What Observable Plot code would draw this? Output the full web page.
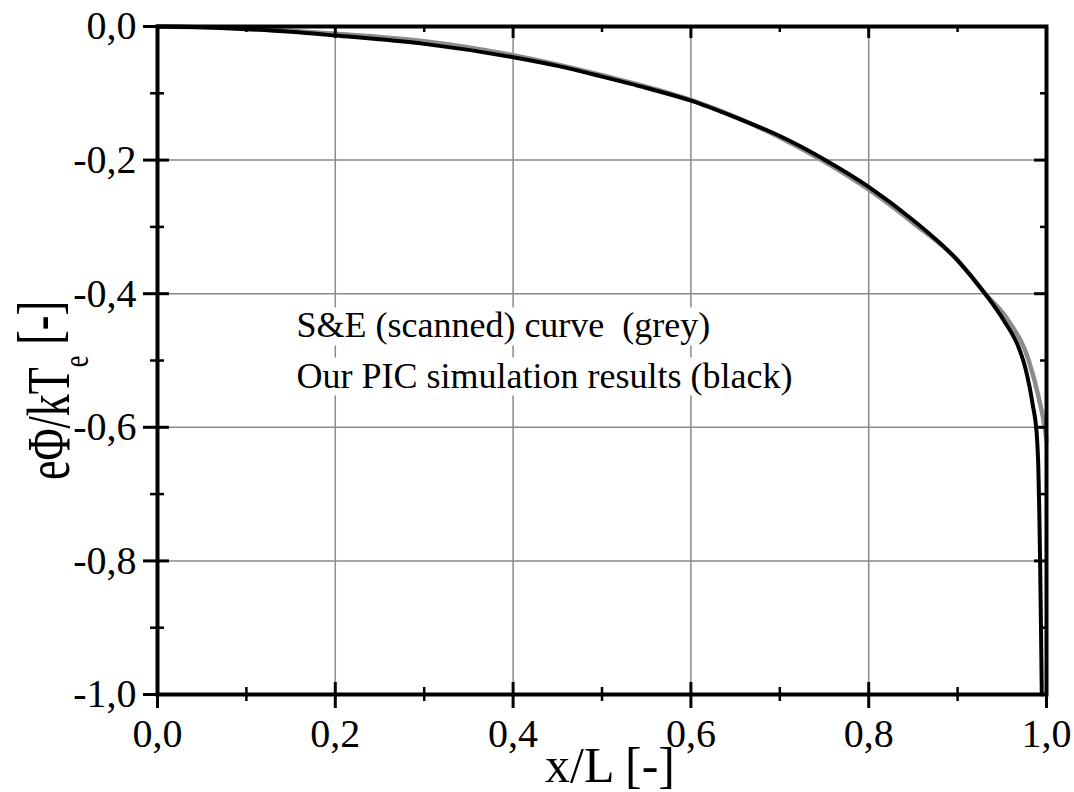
<!DOCTYPE html>
<html>
<head>
<meta charset="utf-8">
<script src="https://cdn.jsdelivr.net/npm/d3@7"></script>
<script src="https://cdn.jsdelivr.net/npm/@observablehq/plot@0.6"></script>
<style>
  html, body { margin: 0; padding: 0; background: #fff; }
</style>
</head>
<body>
<div id="chart"></div>
<script>
// ---- data ----
const blackX = [0, 0.05, 0.1, 0.15, 0.2, 0.3, 0.4, 0.45, 0.5, 0.55, 0.6, 0.65, 0.7, 0.75, 0.8, 0.85, 0.9, 0.931, 0.952, 0.970, 0.976, 0.981, 0.985, 0.9875, 0.9895, 0.9908, 0.9918, 0.9928, 0.9938, 0.9947];
const blackY = [0, -0.001, -0.004, -0.008, -0.0135, -0.026, -0.046, -0.059, -0.075, -0.092, -0.111, -0.136, -0.164, -0.199, -0.240, -0.290, -0.350, -0.40, -0.44, -0.485, -0.51, -0.54, -0.57, -0.59, -0.62, -0.66, -0.72, -0.80, -0.90, -1.0];
const greyX = [0, 0.1, 0.2, 0.3, 0.4, 0.5, 0.6, 0.7, 0.75, 0.8, 0.85, 0.9, 0.931, 0.957, 0.980, 0.992, 0.998, 1.0];
const greyY = [0, -0.003, -0.011, -0.022, -0.043, -0.073, -0.110, -0.166, -0.202, -0.244, -0.294, -0.350, -0.40, -0.44, -0.50, -0.56, -0.60, -0.62];

const xMajor = [0, 0.2, 0.4, 0.6, 0.8, 1.0];
const xMinor = [0.1, 0.3, 0.5, 0.7, 0.9];
const yMajor = [0, -0.2, -0.4, -0.6, -0.8, -1.0];
const yMinor = [-0.1, -0.3, -0.5, -0.7, -0.9];
const xGrid = [0.2, 0.4, 0.6, 0.8];
const yGrid = [-0.2, -0.4, -0.6, -0.8];

const legendLines = ["S&E (scanned) curve  (grey)", "Our PIC simulation results (black)"];
const xTitle = "x/L [-]";
const yTitleMain = "eΦ/kT";
const yTitleSub = "e";
const yTitleUnit = " [-]";

// ---- build tables ----
const black = blackX.map((x, i) => ({x, y: blackY[i]}));
const grey = greyX.map((x, i) => ({x, y: greyY[i]}));
const fmt = d => d.toFixed(1).replace(".", ",");
const FONT = "'Liberation Serif', 'Times New Roman', serif";

const chart = Plot.plot({
  width: 1074,
  height: 792,
  marginLeft: 157,
  marginRight: 28,
  marginTop: 26,
  marginBottom: 98,
  style: {fontFamily: FONT, fontSize: "40px", background: "#fff", color: "#000", overflow: "visible"},
  x: {domain: [0, 1]},
  y: {domain: [-1, 0]},
  marks: [
    // grid
    Plot.ruleX(xGrid, {x: d => d, stroke: "#8a8a8a", strokeWidth: 1.5}),
    Plot.ruleY(yGrid, {y: d => d, stroke: "#8a8a8a", strokeWidth: 1.5}),
    // curves
    Plot.line(grey, {x: "x", y: "y", stroke: "#8c8c8c", strokeWidth: 4.5, curve: "monotone-x"}),
    Plot.line(black, {x: "x", y: "y", stroke: "#000", strokeWidth: 4, curve: "monotone-x"}),
    // frame
    Plot.frame({stroke: "#000", strokeWidth: 4}),
    // bottom ticks
    Plot.ruleX(xMajor, {x: d => d, y1: -1, y2: -1, insetTop: -12, insetBottom: -14, stroke: "#000", strokeWidth: 3}),
    Plot.ruleX(xMinor, {x: d => d, y1: -1, y2: -1, insetTop: -7, insetBottom: -7, stroke: "#000", strokeWidth: 2.5}),
    // top ticks (inward)
    Plot.ruleX(xMajor, {x: d => d, y1: 0, y2: 0, insetTop: 0, insetBottom: -12, stroke: "#000", strokeWidth: 3}),
    Plot.ruleX(xMinor, {x: d => d, y1: 0, y2: 0, insetTop: 0, insetBottom: -6, stroke: "#000", strokeWidth: 2.5}),
    // left ticks
    Plot.ruleY(yMajor, {y: d => d, x1: 0, x2: 0, insetLeft: -14, insetRight: -12, stroke: "#000", strokeWidth: 3}),
    Plot.ruleY(yMinor, {y: d => d, x1: 0, x2: 0, insetLeft: -7, insetRight: -7, stroke: "#000", strokeWidth: 2.5}),
    // right ticks (inward)
    Plot.ruleY(yMajor, {y: d => d, x1: 1, x2: 1, insetLeft: -12, insetRight: 0, stroke: "#000", strokeWidth: 3}),
    Plot.ruleY(yMinor, {y: d => d, x1: 1, x2: 1, insetLeft: -6, insetRight: 0, stroke: "#000", strokeWidth: 2.5}),
    // tick labels
    Plot.axisX(xMajor, {anchor: "bottom", tickSize: 0, tickPadding: 24, tickFormat: fmt, label: null, fontSize: 40}),
    Plot.axisY(yMajor, {anchor: "left", tickSize: 0, tickPadding: 21, tickFormat: fmt, label: null, fontSize: 40}),
    // legend annotation
    Plot.text([legendLines.join("\n")], {x: 0.1563, y: -0.479, text: d => d, textAnchor: "start", lineHeight: 1.39, fontSize: 36, fill: "#000", className: "legendtext"}),
    // axis titles
    Plot.text([xTitle], {frameAnchor: "bottom", text: d => d, textAnchor: "middle", lineAnchor: "bottom", dx: 8, dy: 87, fontSize: 50, fill: "#000"}),
    Plot.text([yTitleMain + yTitleSub + yTitleUnit], {frameAnchor: "left", text: d => d, textAnchor: "middle", rotate: -90, lineAnchor: "bottom", dx: -89, dy: 30, fontSize: 44, fill: "#000", className: "ytitle"})
  ]
});

document.getElementById("chart").appendChild(chart);

// Subscript in the y title, with taller glyphs as in the reference
const yt = chart.querySelector(".ytitle text");
if (yt) {
  yt.textContent = "";
  const ns = "http://www.w3.org/2000/svg";
  const t1 = document.createElementNS(ns, "tspan"); t1.textContent = yTitleMain;
  const t2 = document.createElementNS(ns, "tspan"); t2.textContent = yTitleSub;
  t2.setAttribute("font-size", "26"); t2.setAttribute("dy", "14");
  const t3 = document.createElementNS(ns, "tspan"); t3.textContent = yTitleUnit;
  t3.setAttribute("dy", "-20");
  yt.append(t1, t2, t3);
  yt.setAttribute("transform", yt.getAttribute("transform") + " scale(1,1.4)");
}

// White boxes behind each line of the annotation (hide the grid there)
const lt = chart.querySelector(".legendtext text");
if (lt) {
  const ns = "http://www.w3.org/2000/svg";
  const spans = lt.querySelectorAll("tspan");
  const parts = spans.length ? Array.from(spans) : [lt];
  for (const sp of parts) {
    const b = sp.getBBox();
    const r = document.createElementNS(ns, "rect");
    r.setAttribute("x", b.x - 4);
    r.setAttribute("y", b.y + 2);
    r.setAttribute("width", b.width + 8);
    r.setAttribute("height", b.height - 2);
    r.setAttribute("fill", "#fff");
    r.setAttribute("transform", lt.getAttribute("transform") || "");
    lt.parentNode.insertBefore(r, lt);
  }
}
</script>
</body>
</html>
